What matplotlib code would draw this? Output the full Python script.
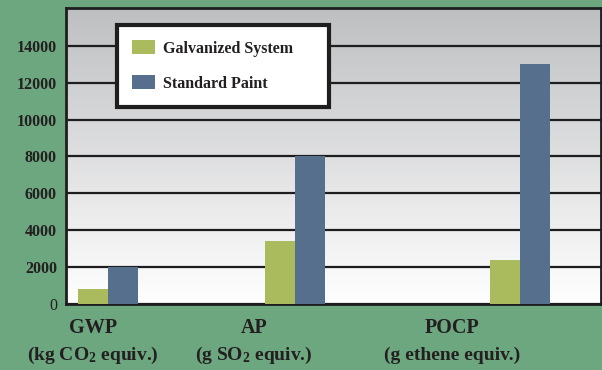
import numpy as np
import matplotlib
matplotlib.use("Agg")
import matplotlib.pyplot as plt
from matplotlib.patches import Patch

# chart data
categories = ["GWP", "AP", "POCP"]
units = ["(kg CO$_2$ equiv.)", "(g SO$_2$ equiv.)", "(g ethene equiv.)"]
galvanized = [800, 3400, 2400]
standard_paint = [2000, 8000, 13000]
yticks = [0, 2000, 4000, 6000, 8000, 10000, 12000, 14000]

# group positions (groups are not evenly spaced in the original)
group_x = np.array([0.0, 1.0, 2.2])
label_x = group_x + np.array([-0.08, -0.22, -0.36])

GREEN_BG = "#6ca77f"
GALV = "#a9bb5c"
PAINT = "#566f8d"
INK = "#231f20"

plt.rcParams["font.family"] = "Liberation Serif"
plt.rcParams["font.weight"] = "bold"
plt.rcParams["mathtext.fontset"] = "custom"
plt.rcParams["mathtext.rm"] = "Liberation Serif:bold"
plt.rcParams["mathtext.it"] = "Liberation Serif:bold"
plt.rcParams["mathtext.bf"] = "Liberation Serif:bold"

fig = plt.figure(figsize=(6.02, 3.70), dpi=100, facecolor=GREEN_BG)
ax = fig.add_axes([66 / 602, 66 / 370, 535 / 602, 296 / 370])

# gray-to-white gradient background (white at the bottom)
grad = np.linspace(0, 1, 256).reshape(-1, 1)
ax.imshow(grad, extent=[0, 1, 0, 1], transform=ax.transAxes, aspect="auto", origin="lower",
          cmap=matplotlib.colors.LinearSegmentedColormap.from_list("bg", ["#ffffff", "#bebfc1"]),
          zorder=0)

w = 0.16
ax.bar(group_x - w / 2, galvanized, width=w, color=GALV, zorder=3)
ax.bar(group_x + w / 2, standard_paint, width=w, color=PAINT, zorder=3)

ax.set_xlim(-0.225, 2.635)
ax.set_ylim(0, 16050)
ax.set_yticks(yticks)
ax.set_yticklabels([str(v) for v in yticks], fontsize=11.5, fontweight="bold", color=INK)
ax.get_yticklabels()[0].set_fontweight("normal")
ax.tick_params(axis="y", length=0, pad=6.5)
ax.set_xticks([])
ax.yaxis.grid(True, color="#1e1e1e", linewidth=1.6, zorder=2)
ax.set_axisbelow(True)

for s in ax.spines.values():
    s.set_color("#1e1e1e")
    s.set_linewidth(2)

for x, c, u in zip(label_x, categories, units):
    ax.text(x, -1572, c, ha="center", va="baseline", fontsize=14.5, fontweight="bold",
            color=INK, clip_on=False)
    ax.text(x, -3035, u, ha="center", va="baseline", fontsize=14, fontweight="bold",
            color=INK, clip_on=False)

handles = [Patch(facecolor=GALV, label="Galvanized System"),
           Patch(facecolor=PAINT, label="Standard Paint")]
leg = ax.legend(handles=handles, loc="upper left",
                bbox_to_anchor=(117 / 535 - 66 / 535, 0.943, 212 / 535, 0), mode="expand",
                prop={"family": "Liberation Serif", "weight": "bold", "size": 11.5},
                frameon=True, fancybox=False, framealpha=1, edgecolor="#1e1e1e",
                handlelength=1.45, handleheight=1.0, labelspacing=1.15,
                borderpad=0.95, handletextpad=0.45, borderaxespad=0)
leg.get_frame().set_linewidth(3)
leg.set_zorder(5)
for t in leg.get_texts():
    t.set_color(INK)

fig.savefig("out.png", dpi=100, facecolor=GREEN_BG)
